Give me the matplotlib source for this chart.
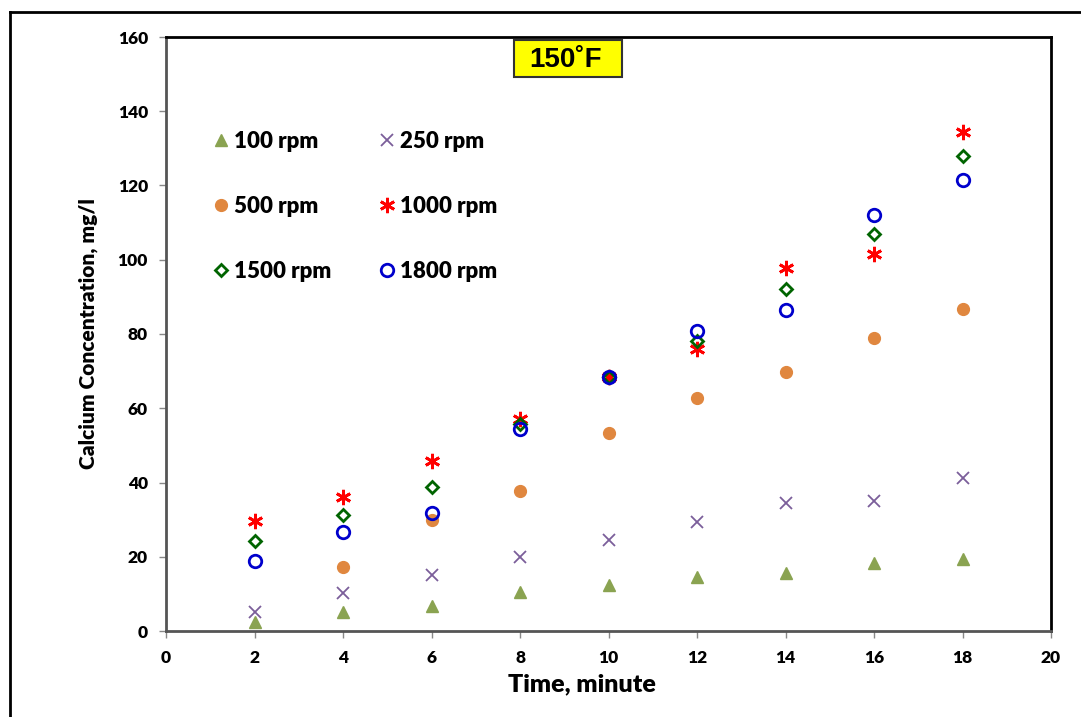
import matplotlib.pyplot as plt
import matplotlib.lines as mlines
from matplotlib.patches import Rectangle

time = [2, 4, 6, 8, 10, 12, 14, 16, 18]
time_500 = [4, 6, 8, 10, 12, 14, 16, 18]

rpm100 = [2.4, 5.1, 6.7, 10.5, 12.4, 14.5, 15.6, 18.3, 19.4]
rpm250 = [5.1, 10.2, 15.1, 19.9, 24.5, 29.4, 34.5, 35.0, 41.2]
rpm500 = [17.2, 30.0, 37.7, 53.3, 62.8, 69.8, 78.9, 86.7]
rpm1000 = [29.6, 36.1, 45.8, 57.1, 68.4, 76.0, 97.8, 101.5, 134.4]
rpm1500 = [24.2, 31.2, 38.8, 55.8, 68.4, 78.1, 92.1, 106.9, 127.9]
rpm1800 = [18.9, 26.7, 31.8, 54.4, 68.4, 80.8, 86.5, 112.1, 121.5]

fig = plt.figure(figsize=(10.81, 7.17), dpi=100)
ax = fig.add_axes([166 / 1081, 1 - 631 / 717, (1051 - 166) / 1081, (631 - 37) / 717])

# outer frame (left + top only, as in the source image)
fig.add_artist(mlines.Line2D([10 / 1081, 10 / 1081], [0, 1 - 12 / 717], color='black', lw=2))
fig.add_artist(mlines.Line2D([10 / 1081, 1], [1 - 12 / 717, 1 - 12 / 717], color='black', lw=2))

h100, = ax.plot(time, rpm100, '^', color='#8aa351', ms=8.5, ls='none', label='100 rpm')
h250, = ax.plot(time, rpm250, 'x', color='#7b5e9a', ms=8, mew=1.3, ls='none', label='250 rpm')
h500, = ax.plot(time_500, rpm500, 'o', color='#e0873f', ms=8.5, mec='#e0873f', ls='none', label='500 rpm')
h1000, = ax.plot(time, rpm1000, marker=(6, 2, 0), color='#ff0000', ms=11, mew=2, ls='none', label='1000 rpm')
h1500, = ax.plot(time, rpm1500, 'D', color='#006400', mfc='none', ms=6.5, mew=2, ls='none', label='1500 rpm')
h1800, = ax.plot(time, rpm1800, 'o', color='#0000cc', mfc='none', ms=9, mew=2, ls='none', label='1800 rpm')

ax.set_xlim(0, 20)
ax.set_ylim(0, 160)
ax.set_xticks(range(0, 21, 2))
ax.set_yticks(range(0, 161, 20))

tick_font = {'family': 'Lato', 'weight': 'heavy', 'size': 12.5}
ax.set_xticklabels([str(v) for v in range(0, 21, 2)], fontdict=tick_font)
ax.set_yticklabels([str(v) for v in range(0, 161, 20)], fontdict=tick_font)
ax.tick_params(direction='out', length=5, width=1, color='#888888')
ax.tick_params(axis='x', pad=9)
ax.tick_params(axis='y', pad=8)

for s in ['left', 'bottom']:
    ax.spines[s].set_color('#555555')
    ax.spines[s].set_linewidth(2)
for s in ['top', 'right']:
    ax.spines[s].set_color('black')
    ax.spines[s].set_linewidth(2)

ax.set_xlabel('Time, minute', fontfamily='Lato', fontweight='heavy', fontsize=18, labelpad=4)
ax.xaxis.set_label_coords(0.47, -0.072)
ax.set_ylabel('Calcium Concentration, mg/l', fontfamily='Lato', fontweight='heavy', fontsize=15, labelpad=14)

leg = ax.legend(handles=[h100, h500, h1500, h250, h1000, h1800], ncol=2, frameon=False,
                loc='upper left', bbox_to_anchor=(0.027, 0.875), labelspacing=1.98,
                handletextpad=0.1, columnspacing=2.0, handlelength=1.0,
                prop={'family': 'Lato', 'weight': 'heavy', 'size': 16})

# yellow label box
ax.add_patch(Rectangle((0.393, 0.933), 0.122, 0.062, transform=ax.transAxes,
                       fc='#ffff00', ec='#333333', lw=1.5, zorder=5))
ax.text(0.452, 0.962, '150\u02daF', transform=ax.transAxes, ha='center', va='center',
        fontsize=20, fontweight='bold', family=['Liberation Sans', 'DejaVu Sans'], zorder=6)

fig.savefig('out.png', dpi=100)
